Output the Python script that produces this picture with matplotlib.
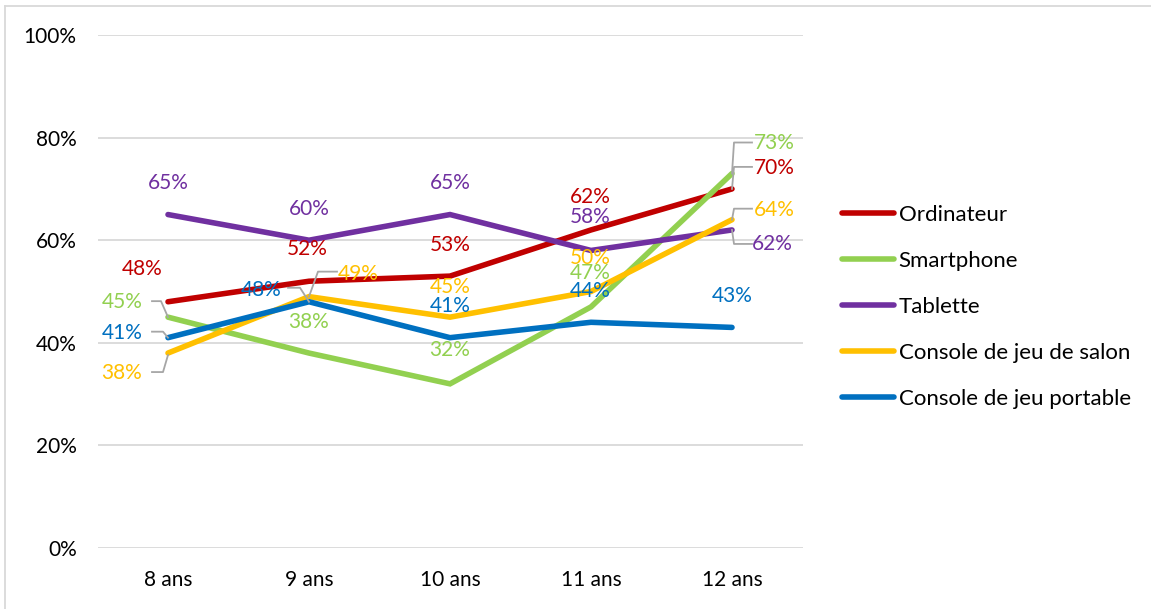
import matplotlib
matplotlib.use("Agg")
from matplotlib import pyplot as plt
from matplotlib.lines import Line2D

plt.rcParams['font.family'] = ['Lato', 'DejaVu Sans']

ages = ["8 ans", "9 ans", "10 ans", "11 ans", "12 ans"]
ordinateur = [48, 52, 53, 62, 70]
smartphone = [45, 38, 32, 47, 73]
tablette = [65, 60, 65, 58, 62]
console_salon = [38, 49, 45, 50, 64]
console_portable = [41, 48, 41, 44, 43]

series_names = ["Ordinateur", "Smartphone", "Tablette",
                "Console de jeu de salon", "Console de jeu portable"]
colors = ["#C00000", "#92D050", "#7030A0", "#FFC000", "#0070C0"]

# label offsets in pixels from the point (x right, y down)
label_offsets = [
    [(-26, -33), (-2, -32), (0, -31), (-1, -33), (42, -21)],
    [(-46, -15), (0, -31), (0, -34), (-1, -34), (42, -31)],
    [(0, -32), (0, -31), (0, -32), (-1, -33), (40, 14)],
    [(-46, 20), (49, -23), (0, -30), (-1, -34), (42, -10)],
    [(-46, -5), (-48, -12), (0, -32), (-1, -31), (0, -31)],
]

# leader lines: (series index, category index, vertices in pixel offsets)
leaders = [
    (1, 0, [(-16, -16), (-7, -16), (0, 0)]),
    (4, 0, [(-16, -6), (-5, -6), (0, 0)]),
    (3, 0, [(-16, 19), (-5, 19), (0, 2)]),
    (3, 1, [(28, -25), (9, -25), (0, 0)]),
    (4, 1, [(-21, -14), (-9, -14), (0, 0)]),
    (1, 4, [(20, -31), (2, -31), (0, 0)]),
    (0, 4, [(20, -22), (2, -22), (0, 0)]),
    (3, 4, [(20, -11), (2, -11), (0, 0)]),
    (2, 4, [(20, 14), (2, 14), (0, 0)]),
]

W, H = 1151, 609
fig = plt.figure(figsize=(W / 100, H / 100), dpi=100)
ax = fig.add_axes([97.5 / W, 1 - 548 / H, 705 / W, 513 / H])

all_series = [ordinateur, smartphone, tablette, console_salon, console_portable]
x = list(range(len(ages)))

for name, vals, c in zip(series_names, all_series, colors):
    ax.plot(x, vals, color=c, lw=4.0, label=name, solid_capstyle='round',
            solid_joinstyle='miter')

ax.set_xlim(-0.5, len(ages) - 0.5)
ax.set_ylim(0, 100)
ax.set_yticks(range(0, 101, 20))
ax.set_yticklabels([f"{v}%" for v in range(0, 101, 20)])
ax.set_xticks(x)
ax.set_xticklabels(ages)
ax.tick_params(length=0, labelsize=15, colors="#000000")
ax.tick_params(axis='y', pad=15)
ax.tick_params(axis='x', pad=16)
ax.grid(axis='y', color="#d9d9d9", lw=1.3)
ax.set_axisbelow(True)
for s in ax.spines.values():
    s.set_visible(False)

for si, vals in enumerate(all_series):
    for ci, v in enumerate(vals):
        dx, dy = label_offsets[si][ci]
        ax.annotate(f"{v}%", (ci, v), xytext=(dx, -dy), textcoords='offset pixels',
                    ha='center', va='center', fontsize=15, color=colors[si])

for si, ci, verts in leaders:
    px, py = ax.transData.transform((ci, all_series[si][ci]))
    xs = [px + dx for dx, dy in verts]
    ys = [py - dy for dx, dy in verts]
    fig.add_artist(Line2D(xs, ys, transform=None, color="#a6a6a6", lw=1.3))

leg = fig.legend(loc='center left', bbox_to_anchor=(822 / W, 1 - 307 / H),
                 frameon=False, fontsize=16, handlelength=2.35, handletextpad=0.2,
                 labelspacing=1.17)
for h in leg.get_lines():
    h.set_linewidth(4.0)

# chart border (top and left visible)
fig.add_artist(Line2D([5 / W, 1], [1 - 6 / H, 1 - 6 / H], transform=fig.transFigure,
                      color="#d9d9d9", lw=1.3))
fig.add_artist(Line2D([5 / W, 5 / W], [0, 1 - 6 / H], transform=fig.transFigure,
                      color="#d9d9d9", lw=1.3))

fig.savefig("out.png", dpi=100)
